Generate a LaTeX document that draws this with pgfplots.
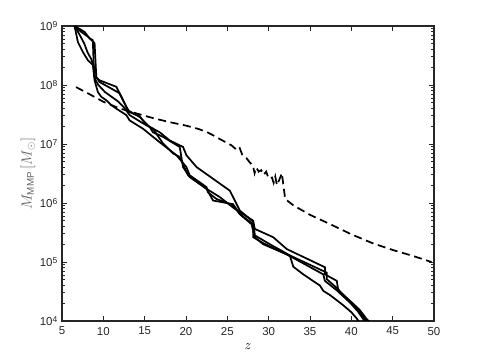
\documentclass[border=0pt]{standalone}
\usepackage{fontspec}
\setmainfont{Liberation Sans}
\usepackage{pgfplots}
\pgfplotsset{compat=1.18}
\newcommand{\tenp}[1]{10\raisebox{0.55ex}{\fontsize{6.4}{7}\selectfont #1}}
\begin{document}
\begin{tikzpicture}
\useasboundingbox (-46.5pt,-29.25pt) rectangle (313.5pt,240.75pt);
\begin{axis}[
  at={(0,0)}, anchor=south west,
  scale only axis, width=279pt, height=221.25pt,
  ymode=log, xmin=5, xmax=50, ymin=1e4, ymax=1e9,
  axis line style={black!85, line width=0.8pt},
  tick style={black!85, line width=0.6pt},
  major tick length=3.75pt, minor tick length=2.2pt,
  tick align=inside,
  xtick={5,10,15,20,25,30,35,40,45,50},
  xticklabels={5,10,15,20,25,30,35,40,45,50},
  ytick={1e4,1e5,1e6,1e7,1e8,1e9},
  yticklabels={\tenp{4},\tenp{5},\tenp{6},\tenp{7},\tenp{8},\tenp{9}},
  minor ytick={2e4,3e4,4e4,5e4,6e4,7e4,8e4,9e4,
               2e5,3e5,4e5,5e5,6e5,7e5,8e5,9e5,
               2e6,3e6,4e6,5e6,6e6,7e6,8e6,9e6,
               2e7,3e7,4e7,5e7,6e7,7e7,8e7,9e7,
               2e8,3e8,4e8,5e8,6e8,7e8,8e8,9e8},
  ticklabel style={font=\fontsize{8.6}{10}\selectfont, text=black!85},
  xticklabel style={yshift=-1pt},
  xlabel={$z$},
  xlabel style={at={(axis description cs:0.5,-0.088)}, anchor=center, font=\fontsize{10}{12}\selectfont},
  ylabel={$M_{\mathrm{MMP}}\,[M_{\odot}]$},
  ylabel style={at={(axis description cs:-0.0914,0.5)}, anchor=center, rotate=0, text=black!60, font=\fontsize{10.5}{12}\selectfont},
]
% dashed
\addplot[black, line width=1.3pt, dash pattern=on 6pt off 3.5pt] coordinates {
(6.7,9.2e7) (8,7.4e7) (10,5.2e7) (12,4.0e7) (14,3.3e7) (16,2.75e7) (18,2.35e7) (20,2.05e7)
(21.5,1.8e7) (22.5,1.6e7) (23.3,1.4e7) (24.3,1.17e7) (25.5,9.5e6) (26.2,7.8e6) (26.5,8.5e6)
(26.8,6.6e6) (27.3,5.8e6) (27.7,4.9e6) (28.1,4.3e6) (28.3,3.2e6) (28.5,4.0e6) (28.8,3.4e6)
(29.1,3.6e6) (29.4,3.0e6) (29.7,3.4e6) (30.0,2.6e6) (30.4,2.7e6) (30.6,2.2e6) (30.8,2.8e6)
(31.0,2.0e6) (31.3,2.5e6) (31.6,3.2e6) (31.8,1.9e6) (32.0,1.17e6) (33.0,9.1e5) (35,6.3e5)
(37.4,4.4e5) (40,2.95e5) (42.5,2.1e5) (45,1.6e5) (47.5,1.26e5) (49.7,1.0e5)
};
% line 1
\addplot[black, line width=1.3pt] coordinates {
(6.52,1e9) (6.92,5.37e8) (7.52,3.63e8) (8.13,2.63e8) (8.73,2.19e8) (8.94,1.20e8) (9.34,7.59e7)
(9.75,6.31e7) (10.36,5.50e7) (10.96,4.57e7) (11.57,3.98e7) (12.78,3.09e7) (13.18,2.51e7)
(14.79,1.82e7) (16.82,1.07e7) (18.84,6.46e6) (20.05,4.07e6) (20.45,2.95e6) (22.48,1.86e6)
(22.67,1.51e6) (23.69,1.17e6) (25.70,9.12e5) (26.52,6.46e5) (27.93,4.37e5) (28.33,2.63e5)
(29.34,2.00e5) (32.18,1.35e5) (36.61,6.17e4) (36.8,4.79e4) (38.24,3.31e4) (39.85,2.04e4)
(40.8,1.45e4) (41.4,1.10e4) (41.7,9.55e3)
};
% line 2
\addplot[black, line width=1.3pt] coordinates {
(6.52,1e9) (7.33,7.94e8) (8.13,6.61e8) (8.94,5.13e8) (9.15,1.38e8) (9.55,1.12e8) (10.96,8.71e7)
(11.97,7.24e7) (12.98,3.72e7) (14.39,2.88e7) (15.6,1.95e7) (16.0,1.58e7) (17.22,1.32e7)
(19.24,8.91e6) (19.64,4.07e6) (20.45,2.75e6) (22.48,1.74e6) (23.28,1.10e6) (25.70,9.55e5)
(26.52,6.46e5) (28.13,4.37e5) (28.13,2.63e5) (29.34,2.09e5) (32.58,1.26e5) (32.98,8.32e4)
(34.19,6.17e4) (36.21,3.98e4) (36.61,3.24e4) (37.42,2.75e4) (39.0,1.86e4) (40.0,1.41e4)
(40.66,1.10e4) (40.95,9.55e3)
};
% line 3
\addplot[black, line width=1.3pt] coordinates {
(6.52,1e9) (7.73,7.94e8) (8.33,6.17e8) (8.73,5.75e8) (8.88,1.41e8) (9.55,1.20e8) (11.57,9.33e7)
(12.78,4.27e7) (13.18,3.47e7) (14.39,2.95e7) (15.21,2.09e7) (16.82,1.58e7) (18.03,1.15e7)
(19.64,8.91e6) (20.05,6.46e6) (21.27,4.07e6) (23.88,2.24e6) (25.30,1.62e6) (25.91,1.10e6)
(26.52,7.41e5) (27.73,5.37e5) (28.13,4.79e5) (28.33,3.63e5) (30.55,2.63e5) (32.18,1.66e5)
(36.82,8.13e4) (36.82,6.17e4) (38.24,4.79e4) (38.43,3.24e4) (39.85,2.19e4) (41.0,1.55e4)
(41.87,1.07e4) (42.27,9.55e3)
};
% line 4
\addplot[black, line width=1.3pt] coordinates {
(6.52,1e9) (7.1,7.24e8) (7.7,5.01e8) (8.1,3.55e8) (8.5,2.82e8) (8.9,2.00e8) (9.0,1.26e8)
(9.4,1.00e8) (10.2,7.59e7) (11.0,6.31e7) (11.8,5.25e7) (12.5,4.17e7) (13.18,3.09e7)
(14.79,2.24e7) (16.0,1.82e7) (17.22,1.02e7) (18.43,6.92e6) (19.24,6.03e6) (19.64,4.57e6)
(20.25,2.95e6) (22.48,1.74e6) (24.09,1.26e6) (25.91,7.94e5) (28.13,5.01e5) (28.33,2.82e5)
(30.15,2.00e5) (32.58,1.29e5) (37.02,6.61e4) (37.02,5.13e4) (38.24,3.63e4) (39.85,2.14e4)
(41.0,1.45e4) (41.6,1.10e4) (41.9,9.55e3)
};
\end{axis}
\end{tikzpicture}
\end{document}
